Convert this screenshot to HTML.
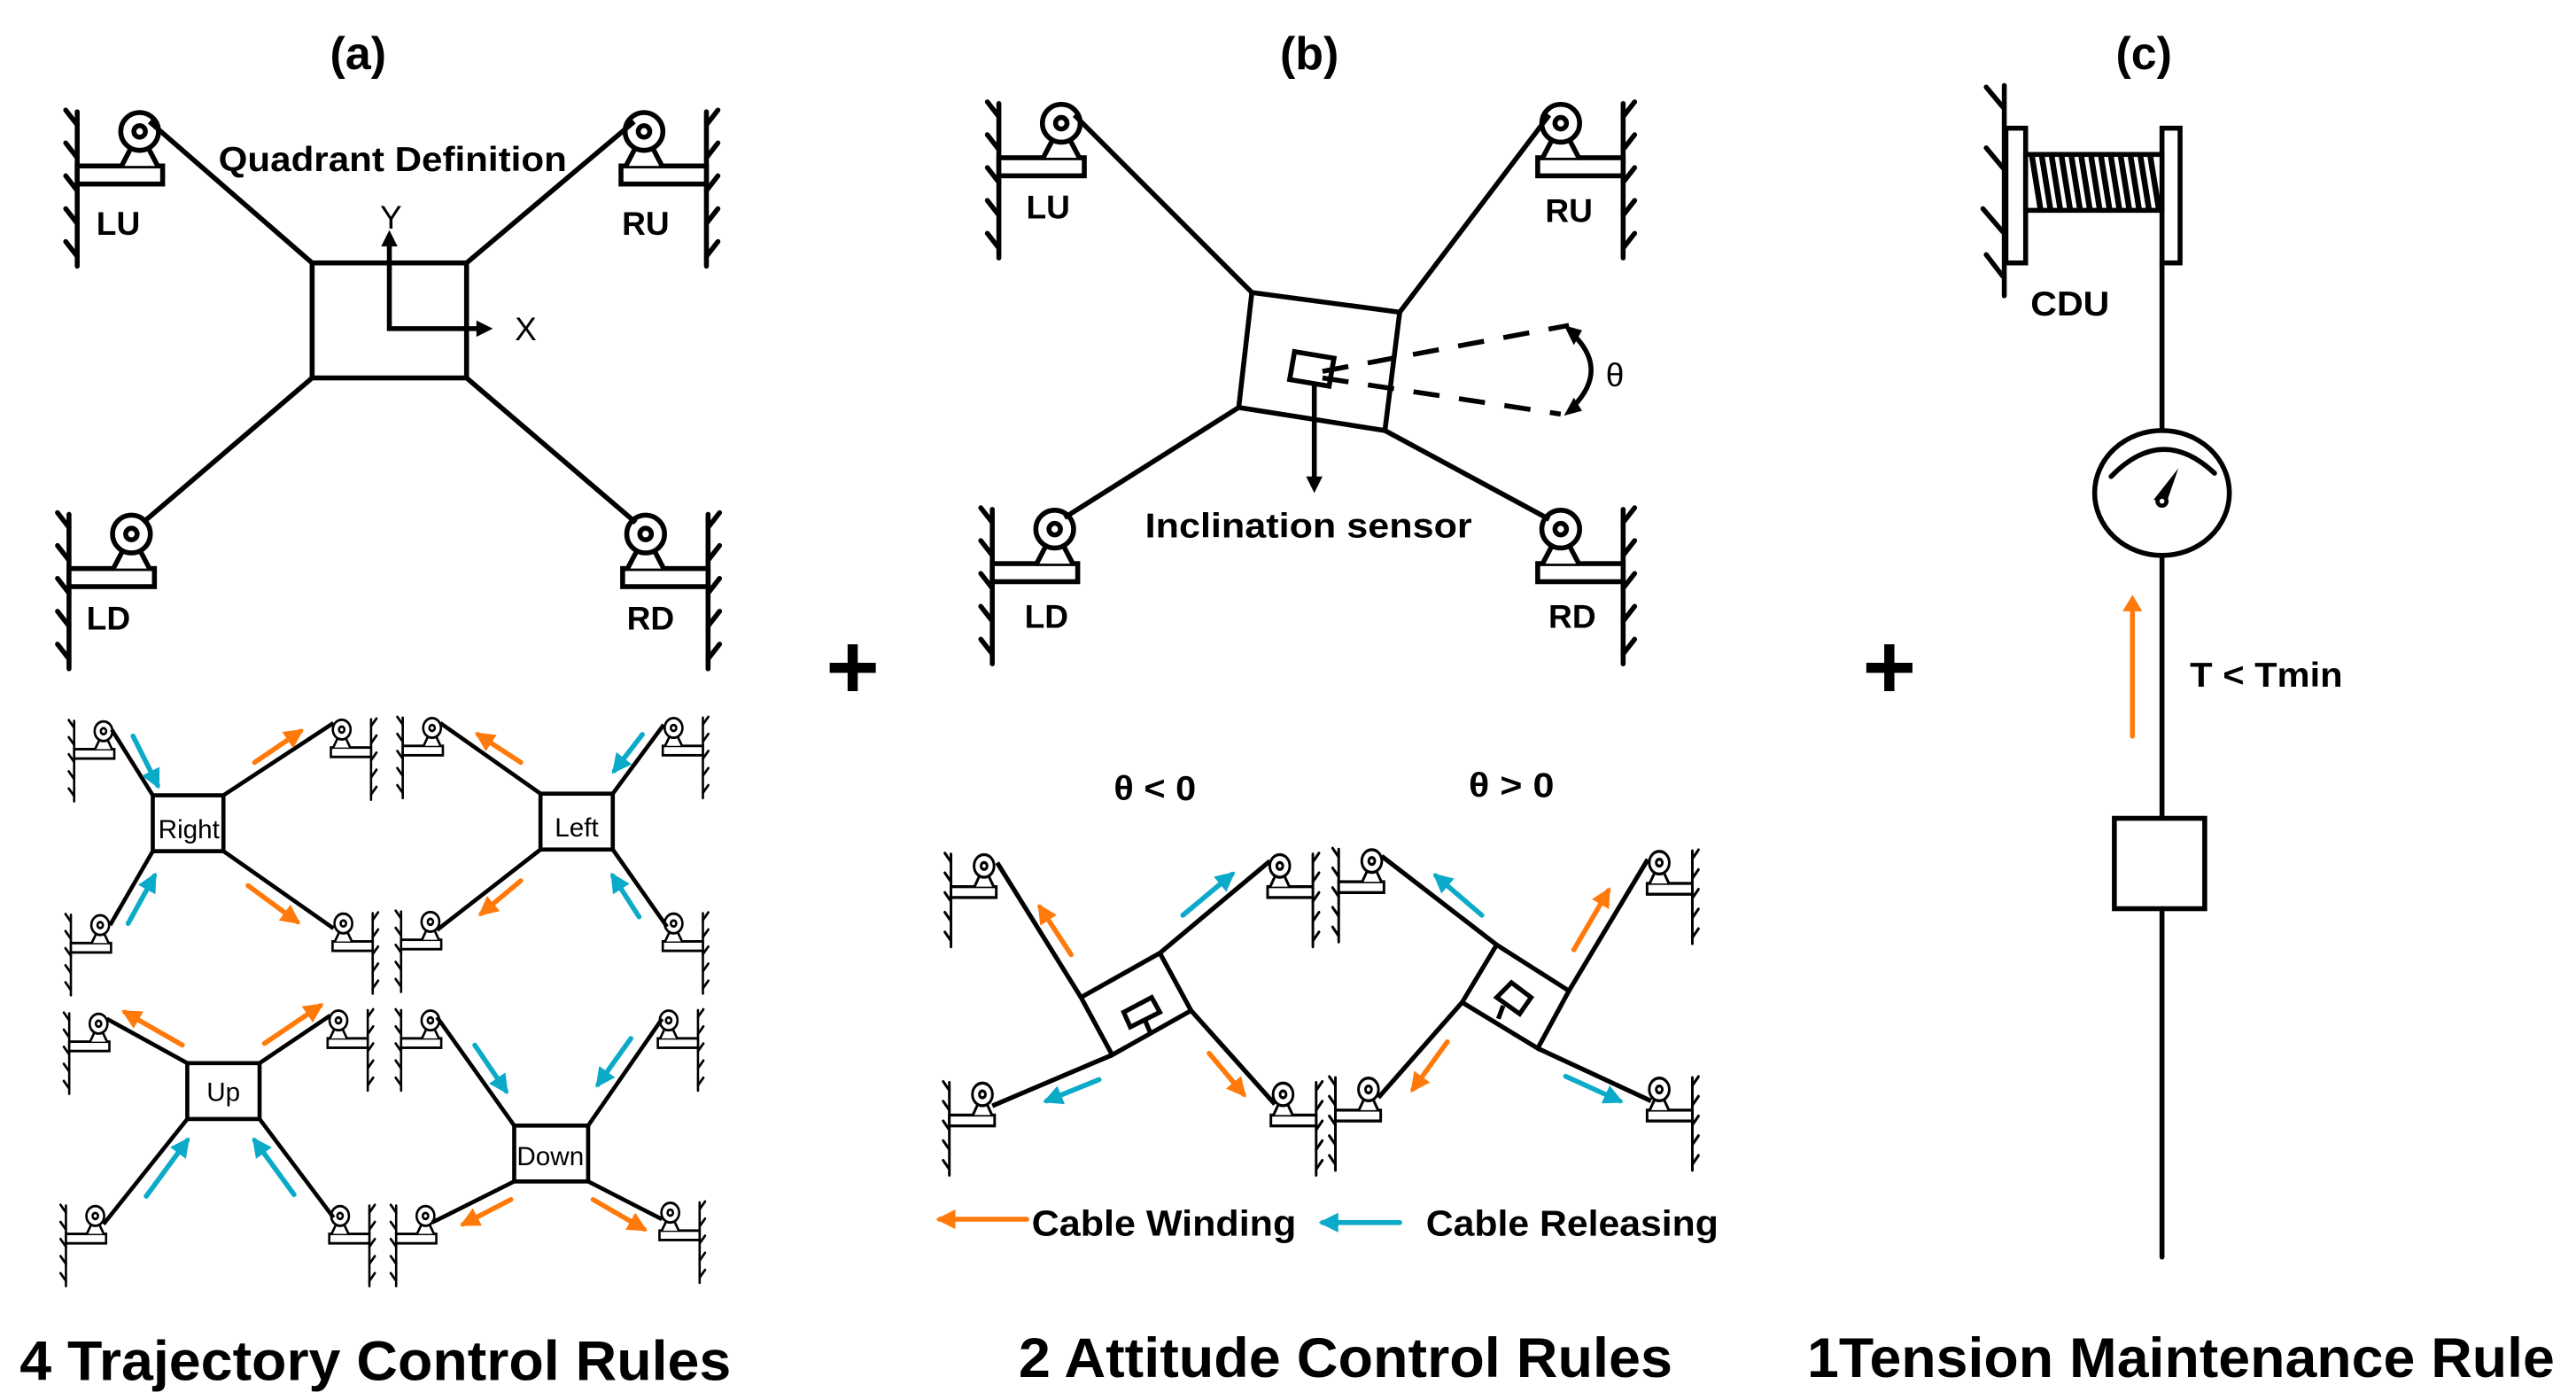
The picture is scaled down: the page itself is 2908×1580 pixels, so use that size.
<!DOCTYPE html>
<html><head><meta charset="utf-8"><style>
html,body{margin:0;padding:0;background:#fff;}
svg{display:block;}
text{font-family:"Liberation Sans",Arial,sans-serif;fill:#000;}
</style></head><body>
<svg width="2908" height="1580" viewBox="0 0 1568 852" preserveAspectRatio="none" xmlns="http://www.w3.org/2000/svg">
<defs>
<g id="anc" stroke="#000" stroke-width="3" fill="none" stroke-linecap="round">
<line x1="-38" y1="-12" x2="-38" y2="82"/>
<path d="M-45,-13 L-38,-4 M-45,7 L-38,16 M-45,27 L-38,36 M-45,47 L-38,56 M-45,67 L-38,76"/>
<rect x="-38" y="21" width="52" height="11" fill="#fff"/>
<polyline points="-11,21 0,0 11,21" fill="#fff"/>
<circle cx="0" cy="0" r="11.5" fill="#fff"/>
<circle cx="0" cy="0" r="3.5"/>
</g>
<marker id="mo" viewBox="0 0 10 10" refX="8" refY="5" markerWidth="4" markerHeight="4" orient="auto"><path d="M0,0 L10,5 L0,10 z" fill="#FF7A0A"/></marker>
<marker id="mb" viewBox="0 0 10 10" refX="8" refY="5" markerWidth="4" markerHeight="4" orient="auto"><path d="M0,0 L10,5 L0,10 z" fill="#0AAAC8"/></marker>
</defs>

<!-- ===== (a) ===== -->
<text x="218" y="42" font-size="28" font-weight="bold" text-anchor="middle">(a)</text>
<use href="#anc" transform="translate(85,80)"/>
<use href="#anc" transform="translate(392,80) scale(-1,1)"/>
<use href="#anc" transform="translate(80,325)"/>
<use href="#anc" transform="translate(393,325) scale(-1,1)"/>
<text x="72" y="143" font-size="20" font-weight="bold" text-anchor="middle">LU</text>
<text x="393" y="143" font-size="20" font-weight="bold" text-anchor="middle">RU</text>
<text x="66" y="383" font-size="20" font-weight="bold" text-anchor="middle">LD</text>
<text x="396" y="383" font-size="20" font-weight="bold" text-anchor="middle">RD</text>
<g stroke="#000" stroke-width="3" fill="none">
<line x1="91" y1="74" x2="190" y2="160"/>
<line x1="386" y1="74" x2="284" y2="160"/>
<line x1="87" y1="318" x2="190" y2="230"/>
<line x1="387" y1="318" x2="284" y2="230"/>
<rect x="190" y="160" width="94" height="70" fill="#fff"/>
<polyline points="237,143 237,200 294,200"/>
</g>
<path d="M232,150 L237,140 L242,150 z M290,195 L300,200 L290,205 z"/>
<text x="238" y="139" font-size="20" text-anchor="middle">Y</text>
<text x="320" y="207" font-size="20" text-anchor="middle">X</text>
<text x="133" y="104" font-size="21" font-weight="bold" textLength="212" lengthAdjust="spacingAndGlyphs">Quadrant Definition</text>

<!-- small rules -->
<g>
<use href="#anc" transform="translate(63,445) scale(0.47,0.52)"/>
<use href="#anc" transform="translate(208,444) scale(-0.47,0.52)"/>
<use href="#anc" transform="translate(61,563) scale(0.47,0.52)"/>
<use href="#anc" transform="translate(209,562) scale(-0.47,0.52)"/>
<use href="#anc" transform="translate(263,443) scale(0.47,0.52)"/>
<use href="#anc" transform="translate(410,443) scale(-0.47,0.52)"/>
<use href="#anc" transform="translate(262,561) scale(0.47,0.52)"/>
<use href="#anc" transform="translate(410,562) scale(-0.47,0.52)"/>
<use href="#anc" transform="translate(60,623) scale(0.47,0.52)"/>
<use href="#anc" transform="translate(206,621) scale(-0.47,0.52)"/>
<use href="#anc" transform="translate(58,740) scale(0.47,0.52)"/>
<use href="#anc" transform="translate(207,740) scale(-0.47,0.52)"/>
<use href="#anc" transform="translate(262,621) scale(0.47,0.52)"/>
<use href="#anc" transform="translate(407,621) scale(-0.47,0.52)"/>
<use href="#anc" transform="translate(259,740) scale(0.47,0.52)"/>
<use href="#anc" transform="translate(408,738) scale(-0.47,0.52)"/>
</g>
<g stroke="#000" stroke-width="2.5" fill="none">
<line x1="68" y1="444" x2="93" y2="484"/><line x1="203" y1="440" x2="136" y2="484"/>
<line x1="67" y1="563" x2="93" y2="518"/><line x1="203" y1="565" x2="136" y2="518"/>
<rect x="93" y="484" width="43" height="34" fill="#fff"/>
<line x1="268" y1="440" x2="329" y2="483"/><line x1="404" y1="441" x2="373" y2="483"/>
<line x1="266" y1="566" x2="329" y2="517"/><line x1="406" y1="564" x2="373" y2="517"/>
<rect x="329" y="483" width="44" height="34" fill="#fff"/>
<line x1="65" y1="620" x2="114" y2="647"/><line x1="201" y1="618" x2="158" y2="647"/>
<line x1="63" y1="745" x2="114" y2="681"/><line x1="203" y1="741" x2="158" y2="681"/>
<rect x="114" y="647" width="44" height="34" fill="#fff"/>
<line x1="266" y1="619" x2="313" y2="685"/><line x1="403" y1="620" x2="358" y2="685"/>
<line x1="263" y1="744" x2="313" y2="719"/><line x1="403" y1="742" x2="358" y2="719"/>
<rect x="313" y="685" width="45" height="34" fill="#fff"/>
</g>
<text x="115" y="510" font-size="16" text-anchor="middle">Right</text>
<text x="351" y="509" font-size="16" text-anchor="middle">Left</text>
<text x="136" y="670" font-size="16" text-anchor="middle">Up</text>
<text x="335" y="709" font-size="16" text-anchor="middle">Down</text>
<g stroke-width="3" stroke-linecap="round" fill="none">
<g stroke="#0AAAC8" marker-end="url(#mb)">
<line x1="81" y1="448" x2="96" y2="478"/><line x1="78" y1="562" x2="94" y2="533"/>
<line x1="391" y1="447" x2="374" y2="469"/><line x1="389" y1="558" x2="373" y2="533"/>
<line x1="89" y1="728" x2="114" y2="694"/><line x1="179" y1="727" x2="155" y2="694"/>
<line x1="289" y1="636" x2="308" y2="664"/><line x1="384" y1="632" x2="364" y2="660"/>
</g>
<g stroke="#FF7A0A" marker-end="url(#mo)">
<line x1="155" y1="464" x2="183" y2="445"/><line x1="151" y1="539" x2="181" y2="561"/>
<line x1="317" y1="464" x2="291" y2="447"/><line x1="317" y1="536" x2="293" y2="556"/>
<line x1="111" y1="636" x2="76" y2="616"/><line x1="161" y1="635" x2="195" y2="612"/>
<line x1="311" y1="730" x2="282" y2="745"/><line x1="361" y1="730" x2="392" y2="748"/>
</g>
</g>
<text x="12" y="840" font-size="34" font-weight="bold" textLength="433" lengthAdjust="spacingAndGlyphs">4 Trajectory Control Rules</text>

<!-- plus signs -->
<text x="519" y="425" font-size="56" font-weight="bold" text-anchor="middle">+</text>
<text x="1150" y="425" font-size="56" font-weight="bold" text-anchor="middle">+</text>

<!-- ===== (b) ===== -->
<text x="797" y="42" font-size="28" font-weight="bold" text-anchor="middle">(b)</text>
<use href="#anc" transform="translate(646,75)"/>
<use href="#anc" transform="translate(950,75) scale(-1,1)"/>
<use href="#anc" transform="translate(642,322)"/>
<use href="#anc" transform="translate(950,322) scale(-1,1)"/>
<text x="638" y="133" font-size="20" font-weight="bold" text-anchor="middle">LU</text>
<text x="955" y="135" font-size="20" font-weight="bold" text-anchor="middle">RU</text>
<text x="637" y="382" font-size="20" font-weight="bold" text-anchor="middle">LD</text>
<text x="957" y="382" font-size="20" font-weight="bold" text-anchor="middle">RD</text>
<g stroke="#000" stroke-width="3" fill="none">
<line x1="654" y1="70" x2="762" y2="178"/>
<line x1="943" y1="70" x2="852" y2="190"/>
<line x1="648" y1="315" x2="754" y2="248"/>
<line x1="943" y1="316" x2="843" y2="262"/>
<polygon points="762,178 852,190 843,262 754,248" fill="#fff"/>
<polygon points="788,214 812,218 809,235 785,231"/>
<path d="M800,234 L800,292"/>
<g stroke-dasharray="16,12">
<line x1="805" y1="226" x2="955" y2="198"/>
<line x1="805" y1="230" x2="950" y2="252"/>
</g>
<path d="M957,203 Q980,225 957,248"/>
</g>
<path d="M795,290 L800,300 L805,290 z"/>
<path d="M952,198 L963,201 L958,210 z M952,253 L963,250 L958,242 z"/>
<text x="983" y="235" font-size="20" text-anchor="middle">θ</text>
<text x="697" y="327" font-size="21" font-weight="bold" textLength="199" lengthAdjust="spacingAndGlyphs">Inclination sensor</text>

<text x="678" y="487" font-size="21" font-weight="bold" textLength="50" lengthAdjust="spacingAndGlyphs">θ &lt; 0</text>
<text x="894" y="485" font-size="21" font-weight="bold" textLength="52" lengthAdjust="spacingAndGlyphs">θ &gt; 0</text>
<use href="#anc" transform="translate(599,527) scale(0.53,0.6)"/>
<use href="#anc" transform="translate(779,527) scale(-0.53,0.6)"/>
<use href="#anc" transform="translate(598,666) scale(0.53,0.6)"/>
<use href="#anc" transform="translate(781,666) scale(-0.53,0.6)"/>
<use href="#anc" transform="translate(835,524) scale(0.53,0.6)"/>
<use href="#anc" transform="translate(1010,525) scale(-0.53,0.6)"/>
<use href="#anc" transform="translate(833,663) scale(0.53,0.6)"/>
<use href="#anc" transform="translate(1010,663) scale(-0.53,0.6)"/>
<g stroke="#000" stroke-width="2.8" fill="none">
<line x1="607" y1="525" x2="658" y2="607"/><line x1="773" y1="524" x2="706" y2="580"/>
<line x1="604" y1="673" x2="677" y2="642"/><line x1="776" y1="672" x2="725" y2="615"/>
<polygon points="658,607 706,580 725,615 677,642" fill="#fff"/>
<polygon points="684,616 701,607 706,616 688,625"/><line x1="697" y1="621" x2="700" y2="628"/>
<line x1="841" y1="521" x2="911" y2="575"/><line x1="1003" y1="523" x2="955" y2="603"/>
<line x1="839" y1="668" x2="890" y2="610"/><line x1="1005" y1="670" x2="936" y2="638"/>
<polygon points="911,575 955,603 936,638 890,610" fill="#fff"/>
<polygon points="911,607 920,598 932,607 925,617"/><line x1="915" y1="612" x2="912" y2="620"/>
</g>
<g stroke-width="3" stroke-linecap="round" fill="none">
<g stroke="#0AAAC8" marker-end="url(#mb)">
<line x1="720" y1="557" x2="750" y2="532"/><line x1="669" y1="657" x2="637" y2="670"/>
<line x1="902" y1="557" x2="874" y2="533"/><line x1="953" y1="655" x2="986" y2="670"/>
<line x1="852" y1="744" x2="805" y2="744"/>
</g>
<g stroke="#FF7A0A" marker-end="url(#mo)">
<line x1="652" y1="581" x2="633" y2="552"/><line x1="736" y1="641" x2="757" y2="666"/>
<line x1="958" y1="578" x2="979" y2="542"/><line x1="881" y1="634" x2="860" y2="663"/>
<line x1="625" y1="742" x2="572" y2="742"/>
</g>
</g>
<text x="628" y="752" font-size="22" font-weight="bold" textLength="161" lengthAdjust="spacingAndGlyphs">Cable Winding</text>
<text x="868" y="752" font-size="22" font-weight="bold" textLength="178" lengthAdjust="spacingAndGlyphs">Cable Releasing</text>
<text x="620" y="838" font-size="34" font-weight="bold" textLength="398" lengthAdjust="spacingAndGlyphs">2 Attitude Control Rules</text>

<!-- ===== (c) ===== -->
<text x="1305" y="42" font-size="28" font-weight="bold" text-anchor="middle">(c)</text>
<g stroke="#000" stroke-width="3" fill="none" stroke-linecap="round">
<line x1="1220" y1="52" x2="1220" y2="180"/>
<path d="M1209,53 L1219,65 M1209,90 L1219,102 M1207,127 L1219,141 M1209,155 L1219,168"/>
<rect x="1221" y="78" width="12" height="82" fill="#fff"/>
<rect x="1316" y="78" width="11" height="82" fill="#fff"/>
<rect x="1233" y="94" width="83" height="34" fill="#fff"/>
<path d="M1237,96 L1242,127 M1243,96 L1248,127 M1249,96 L1254,127 M1255,96 L1260,127 M1261,96 L1266,127 M1267,96 L1272,127 M1273,96 L1278,127 M1279,96 L1284,127 M1285,96 L1290,127 M1291,96 L1296,127 M1297,96 L1302,127 M1303,96 L1308,127 M1309,96 L1314,127" stroke-width="3.5"/>
<line x1="1316" y1="160" x2="1316" y2="262"/>
<ellipse cx="1316" cy="300" rx="41" ry="38" fill="#fff"/>
<path d="M1285,290 Q1316,258 1348,288"/>
<line x1="1316" y1="338" x2="1316" y2="498"/>
<rect x="1287" y="498" width="55" height="55" fill="#fff"/>
<line x1="1316" y1="553" x2="1316" y2="765"/>
</g>
<path d="M1311,304 L1326,285 L1318,308 z"/>
<circle cx="1316" cy="305" r="4" fill="#000"/>
<circle cx="1316" cy="305" r="1.5" fill="#fff"/>
<line x1="1298" y1="448" x2="1298" y2="370" stroke="#FF7A0A" stroke-width="3" stroke-linecap="round"/>
<path d="M1292,372 L1298,362 L1304,372 z" fill="#FF7A0A"/>
<text x="1236" y="192" font-size="21" font-weight="bold" textLength="48" lengthAdjust="spacingAndGlyphs">CDU</text>
<text x="1333" y="418" font-size="21" font-weight="bold" textLength="93" lengthAdjust="spacingAndGlyphs">T &lt; Tmin</text>
<text x="1100" y="838" font-size="34" font-weight="bold" textLength="455" lengthAdjust="spacingAndGlyphs">1Tension Maintenance Rule</text>
</svg>
</body></html>
